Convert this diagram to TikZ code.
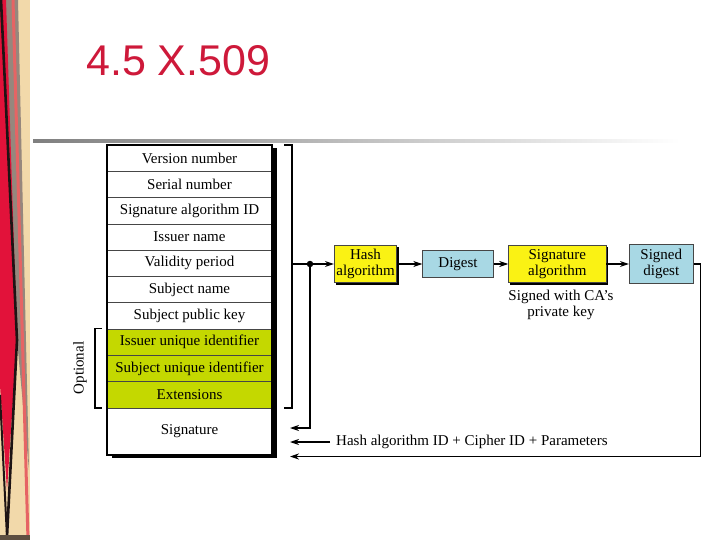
\documentclass[tikz,border=0pt]{standalone}
\usepackage{fontspec}
\setmainfont{Liberation Serif}
\newfontfamily\titlefont{Liberation Sans}
\usetikzlibrary{arrows.meta}
\definecolor{titlered}{RGB}{206,25,58}
\definecolor{beige}{RGB}{242,217,170}
\definecolor{bandred}{RGB}{226,18,58}
\definecolor{bandgray}{RGB}{150,135,125}
\definecolor{bandpink}{RGB}{230,100,100}
\definecolor{bandblack}{RGB}{30,20,20}
\definecolor{optgreen}{RGB}{196,216,0}
\definecolor{boxyellow}{RGB}{250,242,20}
\definecolor{boxblue}{RGB}{168,216,228}
\definecolor{rowline}{RGB}{70,70,70}
\pgfdeclarelayer{bg}
\pgfsetlayers{bg,main}
\begin{document}
\begin{tikzpicture}[x=1pt,y=-1pt,
  txt/.style={font=\fontsize{15}{16.5}\selectfont},
  rowbox/.style={txt, draw=rowline, line width=0.7pt, fill=white, minimum width=165pt, minimum height=26.3pt, inner sep=0pt, outer sep=0pt, anchor=north west},
  optrow/.style={rowbox, fill=optgreen},
  yelbox/.style={txt, draw=rowline, line width=0.8pt, fill=boxyellow, inner sep=0pt, align=center, minimum height=37.4pt},
  bluebox/.style={txt, draw=rowline, line width=0.8pt, fill=boxblue, inner sep=0pt, align=center},
  wire/.style={line width=1.2pt},
  conn/.style={wire, -{Stealth[length=9pt,width=6pt]}},
  brk/.style={line width=1.1pt}
]
\useasboundingbox (0,0) rectangle (720,540);
\begin{pgfonlayer}{bg}
\fill[white] (0,0) rectangle (720,540);
\end{pgfonlayer}

% decorative left band
\fill[beige] (0,0) rectangle (30,540);
\fill[bandgray] (4,0) -- (18,0) -- (29,470) -- (17,340) -- cycle;
\fill[bandred] (0,0) -- (6,0) -- (17,340) -- (7,490) -- (0,385) -- cycle;
\draw[bandblack, line width=2.6pt] (1,0) -- (17,340) -- (7,537);
\draw[bandblack, line width=2pt] (0,395) -- (7,537);
\draw[bandpink, line width=3pt] (13,0) -- (28,540);
\fill[bandblack!70!beige] (0,535) rectangle (30,540);

% title
\node[font=\titlefont\fontsize{43}{47}\selectfont, text=titlered, anchor=base west, inner sep=0pt] (title) at (86,76) {4.5 X.509};

% gradient rule
\shade[left color=black!50, right color=white] (33,139.5) rectangle (680,142.5);

% certificate table
\node[rowbox] (r1) at (107,145) {Version number};
\node[rowbox] (r2) at (r1.south west) {Serial number};
\node[rowbox] (r3) at (r2.south west) {Signature algorithm ID};
\node[rowbox] (r4) at (r3.south west) {Issuer name};
\node[rowbox] (r5) at (r4.south west) {Validity period};
\node[rowbox] (r6) at (r5.south west) {Subject name};
\node[rowbox] (r7) at (r6.south west) {Subject public key};
\node[optrow] (r8) at (r7.south west) {Issuer unique identifier};
\node[optrow] (r9) at (r8.south west) {Subject unique identifier};
\node[optrow] (r10) at (r9.south west) {Extensions};
\node[rowbox, minimum height=47pt] (r11) at (r10.south west) {Signature};
\draw[line width=1.2pt] (r1.north west) rectangle (r11.south east);
\begin{pgfonlayer}{bg}
  \fill[black] ([xshift=4.5pt,yshift=-3pt]r1.north west) rectangle ([xshift=4.5pt,yshift=-2.5pt]r11.south east);
\end{pgfonlayer}

% optional bracket
\coordinate (ob1) at (102,328.3);
\coordinate (ob2) at (95,328.3);
\coordinate (ob3) at (95,408);
\coordinate (ob4) at (102,408);
\draw[brk] (ob1) -- (ob2) -- (ob3) -- (ob4);
\node[txt, rotate=90] (opt) at (80,368) {Optional};

% right bracket
\coordinate (rb1) at (284,145);
\coordinate (rb2) at (292,145);
\coordinate (rb3) at (292,408);
\coordinate (rb4) at (284,408);
\coordinate (br) at (292,264);
\draw[brk] (rb1) -- (rb2) -- (rb3) -- (rb4);

% signing chain
\node[yelbox, minimum width=62.4pt] (hash) at (365.5,264) {Hash\\algorithm};
\node[bluebox, minimum width=70.6pt, minimum height=26.7pt] (digest) at (458,264) {Digest};
\node[yelbox, minimum width=97.3pt] (sigalg) at (557.3,264) {Signature\\algorithm};
\node[bluebox, minimum width=64pt, minimum height=38.4pt] (signed) at (661.3,264) {Signed\\digest};
\begin{pgfonlayer}{bg}
  \fill[black] ([xshift=2pt,yshift=-2pt]hash.north west) rectangle ([xshift=2pt,yshift=-2pt]hash.south east);
  \fill[black] ([xshift=2pt,yshift=-2pt]sigalg.north west) rectangle ([xshift=2pt,yshift=-2pt]sigalg.south east);
\end{pgfonlayer}
\node[txt, align=center] (calabel) at (561,305) {Signed with CA's\\private key};

\node[circle, fill=black, inner sep=0pt, minimum size=6.5pt] (dot) at (310,264) {};
\draw[wire] (br) -- (dot);
\draw[conn] (dot) -- (hash);
\draw[conn] (hash) -- (digest);
\draw[conn] (digest) -- (sigalg);
\draw[conn] (sigalg) -- (signed);

% returns to signature field
\coordinate (a1) at (290,428);
\coordinate (a2s) at (330,442);
\coordinate (a2) at (290,442);
\coordinate (a3) at (290,456.5);
\coordinate (rt) at (700.5,264);
\draw[conn] (dot) |- (a1);
\draw[conn] (a2s) -- (a2);
\draw[conn] (signed.east) -- (rt) |- (a3);
\node[txt, anchor=west, inner sep=0pt] (params) at (336,442) {Hash algorithm ID + Cipher ID + Parameters};
\end{tikzpicture}
\end{document}
